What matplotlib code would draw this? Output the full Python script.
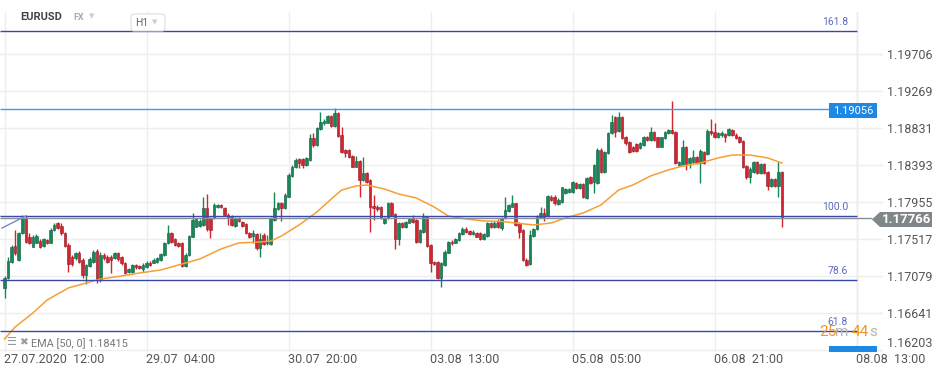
import numpy as np
import matplotlib.pyplot as plt
from matplotlib.patches import Rectangle, Polygon, FancyBboxPatch
from matplotlib.transforms import IdentityTransform

plt.rcParams['font.family'] = ['Roboto', 'DejaVu Sans']

# EURUSD H1 candles, 27.07.2020 12:00 onwards
opens = [1.16932, 1.17050, 1.17248, 1.17433, 1.17267, 1.17583, 1.17761, 1.17544, 1.17425, 1.17473,
         1.17496, 1.17433, 1.17504, 1.17473, 1.17623, 1.17701, 1.17670, 1.17583, 1.17445, 1.17307,
         1.17287, 1.17354, 1.17267, 1.17090, 1.17196, 1.17248, 1.17374, 1.17031, 1.17327, 1.17307,
         1.17307, 1.17287, 1.17346, 1.17307, 1.17236, 1.17129, 1.17129, 1.17208, 1.17196, 1.17157,
         1.17188, 1.17236, 1.17236, 1.17248, 1.17267, 1.17327, 1.17465, 1.17591, 1.17512, 1.17473,
         1.17465, 1.17196, 1.17327, 1.17544, 1.17662, 1.17670, 1.17682, 1.17879, 1.17761, 1.17761,
         1.17891, 1.17918, 1.17879, 1.17800, 1.17780, 1.17674, 1.17761, 1.17721, 1.17690, 1.17591,
         1.17552, 1.17575, 1.17405, 1.17563, 1.17465, 1.17457, 1.17741, 1.17867, 1.17946, 1.17879,
         1.18017, 1.18262, 1.18372, 1.18459, 1.18459, 1.18392, 1.18451, 1.18708, 1.18629, 1.18814,
         1.18885, 1.18893, 1.18972, 1.18854, 1.19012, 1.18747, 1.18570, 1.18570, 1.18499, 1.18372,
         1.18443, 1.18215, 1.18301, 1.18215, 1.17907, 1.17899, 1.17891, 1.17702, 1.17761, 1.17946,
         1.17812, 1.17512, 1.17710, 1.17654, 1.17710, 1.17761, 1.17741, 1.17477, 1.17603, 1.17780,
         1.17441, 1.17240, 1.17240, 1.17050, 1.17208, 1.17354, 1.17484, 1.17473, 1.17504, 1.17575,
         1.17631, 1.17611, 1.17575, 1.17591, 1.17591, 1.17516, 1.17556, 1.17710, 1.17654, 1.17733,
         1.17642, 1.17761, 1.17852, 1.17899, 1.17938, 1.17702, 1.17623, 1.17268, 1.17220, 1.17552,
         1.17631, 1.17773, 1.17820, 1.17788, 1.18017, 1.18017, 1.17930, 1.17958, 1.18065, 1.18076,
         1.18076, 1.18183, 1.18116, 1.18163, 1.17998, 1.18246, 1.18195, 1.18175, 1.18570, 1.18313,
         1.18530, 1.18767, 1.18964, 1.18795, 1.18964, 1.18728, 1.18668, 1.18601, 1.18637, 1.18589,
         1.18629, 1.18720, 1.18688, 1.18787, 1.18720, 1.18609, 1.18708, 1.18767, 1.18806, 1.18787,
         1.18392, 1.18392, 1.18609, 1.18412, 1.18432, 1.18491, 1.18412, 1.18550, 1.18522, 1.18799,
         1.18779, 1.18728, 1.18747, 1.18759, 1.18747, 1.18806, 1.18747, 1.18728, 1.18676, 1.18380,
         1.18246, 1.18313, 1.18432, 1.18294, 1.18404, 1.18313, 1.18144, 1.18222, 1.18144, 1.18313]
highs = [1.17078, 1.17307, 1.17445, 1.17623, 1.17603, 1.17800, 1.17800, 1.17583, 1.17563, 1.17575,
         1.17512, 1.17524, 1.17520, 1.17642, 1.17701, 1.17721, 1.17701, 1.17595, 1.17465, 1.17327,
         1.17366, 1.17374, 1.17287, 1.17220, 1.17307, 1.17386, 1.17394, 1.17366, 1.17346, 1.17327,
         1.17327, 1.17366, 1.17358, 1.17319, 1.17248, 1.17177, 1.17220, 1.17220, 1.17208, 1.17236,
         1.17252, 1.17252, 1.17287, 1.17299, 1.17354, 1.17484, 1.17682, 1.17603, 1.17528, 1.17484,
         1.17480, 1.17346, 1.17563, 1.17820, 1.17764, 1.17749, 1.18017, 1.18049, 1.17780, 1.17938,
         1.17930, 1.17930, 1.17899, 1.17820, 1.17796, 1.17780, 1.17780, 1.17733, 1.17701, 1.17603,
         1.17623, 1.17591, 1.17583, 1.17583, 1.17563, 1.17772, 1.18076, 1.17958, 1.17958, 1.18057,
         1.18294, 1.18392, 1.18471, 1.18471, 1.18471, 1.18491, 1.18759, 1.18767, 1.18846, 1.19024,
         1.18933, 1.18984, 1.18984, 1.19063, 1.19020, 1.18846, 1.18578, 1.18582, 1.18510, 1.18499,
         1.18451, 1.18491, 1.18313, 1.18222, 1.18037, 1.17919, 1.17907, 1.17773, 1.17958, 1.17958,
         1.17828, 1.17721, 1.17721, 1.17733, 1.17761, 1.17800, 1.17749, 1.17635, 1.17828, 1.17792,
         1.17457, 1.17252, 1.17252, 1.17248, 1.17386, 1.17496, 1.17504, 1.17528, 1.17595, 1.17654,
         1.17662, 1.17623, 1.17623, 1.17603, 1.17603, 1.17583, 1.17721, 1.17721, 1.17729, 1.17749,
         1.17780, 1.18017, 1.17930, 1.18037, 1.17946, 1.17721, 1.17630, 1.17287, 1.17623, 1.17642,
         1.17800, 1.17891, 1.17879, 1.18037, 1.18033, 1.18033, 1.17998, 1.18136, 1.18116, 1.18120,
         1.18207, 1.18195, 1.18175, 1.18175, 1.18246, 1.18262, 1.18404, 1.18589, 1.18589, 1.18562,
         1.18787, 1.18984, 1.18972, 1.19024, 1.18972, 1.18739, 1.18680, 1.18617, 1.18649, 1.18668,
         1.18739, 1.18735, 1.18846, 1.18799, 1.18728, 1.18728, 1.18799, 1.18818, 1.19150, 1.18799,
         1.18443, 1.18688, 1.18617, 1.18491, 1.18570, 1.18503, 1.18578, 1.18562, 1.18814, 1.18933,
         1.18885, 1.18787, 1.18791, 1.18775, 1.18826, 1.18818, 1.18767, 1.18739, 1.18688, 1.18392,
         1.18365, 1.18443, 1.18443, 1.18420, 1.18420, 1.18325, 1.18234, 1.18234, 1.18432, 1.18325]
lows = [1.16814, 1.17038, 1.17236, 1.17327, 1.17256, 1.17571, 1.17473, 1.17457, 1.17417, 1.17465,
        1.17409, 1.17417, 1.17453, 1.17465, 1.17611, 1.17630, 1.17563, 1.17425, 1.17129, 1.17196,
        1.17267, 1.17228, 1.17050, 1.16983, 1.17181, 1.17236, 1.16991, 1.17011, 1.17267, 1.17236,
        1.17110, 1.17275, 1.17259, 1.17208, 1.17102, 1.17110, 1.17117, 1.17165, 1.17157, 1.17129,
        1.17177, 1.17196, 1.17228, 1.17236, 1.17259, 1.17315, 1.17457, 1.17465, 1.17433, 1.17417,
        1.17181, 1.17188, 1.17315, 1.17536, 1.17654, 1.17662, 1.17670, 1.17615, 1.17524, 1.17749,
        1.17879, 1.17879, 1.17788, 1.17682, 1.17670, 1.17662, 1.17721, 1.17654, 1.17571, 1.17524,
        1.17465, 1.17386, 1.17307, 1.17445, 1.17445, 1.17445, 1.17733, 1.17859, 1.17733, 1.17867,
        1.18009, 1.18246, 1.18361, 1.18353, 1.18353, 1.18380, 1.18443, 1.18609, 1.18617, 1.18806,
        1.18866, 1.18885, 1.18838, 1.18838, 1.18728, 1.18538, 1.18491, 1.18471, 1.18365, 1.18365,
        1.18009, 1.18207, 1.18183, 1.17603, 1.17741, 1.17852, 1.17749, 1.17694, 1.17749, 1.17788,
        1.17394, 1.17445, 1.17642, 1.17646, 1.17702, 1.17710, 1.17465, 1.17465, 1.17591, 1.17425,
        1.17129, 1.17208, 1.17039, 1.16952, 1.17197, 1.17347, 1.17449, 1.17465, 1.17496, 1.17563,
        1.17591, 1.17563, 1.17563, 1.17536, 1.17504, 1.17504, 1.17544, 1.17642, 1.17642, 1.17650,
        1.17623, 1.17749, 1.17840, 1.17891, 1.17670, 1.17524, 1.17260, 1.17197, 1.17208, 1.17544,
        1.17623, 1.17761, 1.17733, 1.17780, 1.17966, 1.17919, 1.17919, 1.17946, 1.18049, 1.18065,
        1.18065, 1.18104, 1.18104, 1.17998, 1.17986, 1.18163, 1.18057, 1.18167, 1.18301, 1.18301,
        1.18522, 1.18755, 1.18728, 1.18783, 1.18696, 1.18629, 1.18538, 1.18546, 1.18550, 1.18578,
        1.18617, 1.18676, 1.18680, 1.18680, 1.18601, 1.18601, 1.18696, 1.18759, 1.18759, 1.18404,
        1.18380, 1.18380, 1.18333, 1.18353, 1.18420, 1.18404, 1.18175, 1.18404, 1.18510, 1.18747,
        1.18708, 1.18716, 1.18728, 1.18668, 1.18735, 1.18735, 1.18696, 1.18649, 1.18353, 1.18222,
        1.18183, 1.18301, 1.18286, 1.18282, 1.18286, 1.18096, 1.18136, 1.18128, 1.18009, 1.17662]
closes = [1.17050, 1.17259, 1.17425, 1.17346, 1.17583, 1.17761, 1.17484, 1.17473, 1.17544, 1.17552,
          1.17425, 1.17512, 1.17465, 1.17623, 1.17682, 1.17642, 1.17583, 1.17433, 1.17220, 1.17220,
          1.17354, 1.17248, 1.17090, 1.17208, 1.17275, 1.17366, 1.17031, 1.17327, 1.17287, 1.17248,
          1.17267, 1.17346, 1.17275, 1.17228, 1.17117, 1.17157, 1.17208, 1.17181, 1.17169, 1.17208,
          1.17236, 1.17208, 1.17267, 1.17287, 1.17338, 1.17465, 1.17591, 1.17484, 1.17445, 1.17433,
          1.17196, 1.17327, 1.17552, 1.17741, 1.17749, 1.17733, 1.17879, 1.17630, 1.17623, 1.17918,
          1.17918, 1.17891, 1.17800, 1.17780, 1.17682, 1.17761, 1.17733, 1.17670, 1.17583, 1.17544,
          1.17583, 1.17405, 1.17512, 1.17457, 1.17484, 1.17761, 1.17879, 1.17938, 1.17879, 1.18037,
          1.18274, 1.18372, 1.18451, 1.18420, 1.18392, 1.18471, 1.18708, 1.18629, 1.18826, 1.18905,
          1.18913, 1.18972, 1.18854, 1.19012, 1.18735, 1.18550, 1.18538, 1.18491, 1.18372, 1.18443,
          1.18215, 1.18301, 1.18195, 1.17891, 1.17879, 1.17867, 1.17761, 1.17761, 1.17946, 1.17800,
          1.17512, 1.17702, 1.17654, 1.17717, 1.17749, 1.17721, 1.17477, 1.17623, 1.17780, 1.17433,
          1.17228, 1.17220, 1.17050, 1.17228, 1.17366, 1.17484, 1.17465, 1.17516, 1.17583, 1.17631,
          1.17603, 1.17575, 1.17603, 1.17544, 1.17516, 1.17575, 1.17710, 1.17654, 1.17710, 1.17662,
          1.17761, 1.17859, 1.17919, 1.17938, 1.17682, 1.17603, 1.17268, 1.17208, 1.17563, 1.17631,
          1.17780, 1.17820, 1.17780, 1.18025, 1.17978, 1.17946, 1.17978, 1.18128, 1.18104, 1.18104,
          1.18195, 1.18116, 1.18163, 1.18009, 1.18234, 1.18175, 1.18392, 1.18570, 1.18313, 1.18550,
          1.18775, 1.18905, 1.18787, 1.18964, 1.18708, 1.18649, 1.18550, 1.18562, 1.18562, 1.18649,
          1.18728, 1.18688, 1.18787, 1.18688, 1.18609, 1.18720, 1.18787, 1.18806, 1.18775, 1.18412,
          1.18432, 1.18609, 1.18392, 1.18471, 1.18491, 1.18420, 1.18562, 1.18420, 1.18799, 1.18767,
          1.18720, 1.18767, 1.18775, 1.18728, 1.18814, 1.18747, 1.18708, 1.18668, 1.18365, 1.18246,
          1.18345, 1.18432, 1.18294, 1.18404, 1.18301, 1.18144, 1.18222, 1.18144, 1.18313, 1.17766]

# EMA(50) at some candle positions
ema_idx = [0, 3, 8, 12, 18, 27, 33, 38, 44, 49, 55, 61, 66, 72, 75, 78, 83, 88, 93, 95, 99, 102,
           107, 111, 116, 121, 125, 130, 135, 140, 144, 149, 154, 158, 163, 168, 173, 177, 182,
           187, 191, 196, 201, 205, 210, 215, 219]
ema_val = [1.16332, 1.16474, 1.16640, 1.16794, 1.16936, 1.17042, 1.17078, 1.17113, 1.17149,
           1.17208, 1.17279, 1.17398, 1.17469, 1.17480, 1.17492, 1.17551, 1.17682, 1.17836,
           1.18025, 1.18096, 1.18143, 1.18155, 1.18108, 1.18049, 1.18001, 1.17895, 1.17788,
           1.17753, 1.17729, 1.17723, 1.17705, 1.17682, 1.17705, 1.17765, 1.17824, 1.17918,
           1.18096, 1.18155, 1.18262, 1.18333, 1.18380, 1.18416, 1.18475, 1.18510, 1.18510,
           1.18475, 1.18415]

fib_levels = ['61.8', '78.6', '100.0', '161.8']
fib_prices = [1.16427, 1.17031, 1.17788, 1.19978]
high_line = 1.19056
last_price = 1.17766
trend_x = [-0.7, 6.0]
trend_y = [1.17646, 1.17788]

y_ticks = [1.19706, 1.19269, 1.18831, 1.18393, 1.17955, 1.17517, 1.17079, 1.16641, 1.16203]
x_ticks = [0, 40, 80, 120, 160, 200, 240]
x_labels = ['27.07.2020  12:00', '29.07  04:00', '30.07  20:00', '03.08  13:00',
            '05.08  05:00', '06.08  21:00', '08.08  13:00']

W, H = 945, 376
fig = plt.figure(figsize=(W / 100, H / 100), dpi=100)
ax = fig.add_axes([0, (H - 352) / H, 883 / W, (352 - 12) / H])

x0, step = 4.5, 3.55          # pixel of first candle, pixels per candle
def xi(px):
    return (px - x0) / step
def fx(px):
    return px / W
def fy(py):
    return 1 - py / H

ax.set_xlim(xi(0), xi(883))
ax.set_ylim(1.16178, 1.20203)
for s in ax.spines.values():
    s.set_visible(False)

ax.set_yticks(y_ticks)
ax.set_yticklabels([f'{v:.5f}' for v in y_ticks])
ax.yaxis.tick_right()
ax.set_xticks(x_ticks)
ax.set_xticklabels(x_labels, ha='left')
ax.tick_params(axis='both', length=0, labelsize=9, colors='#555555')
ax.tick_params(axis='y', pad=3)
ax.tick_params(axis='x', pad=1, labelsize=9)
ax.get_yticklabels()[-1].set_verticalalignment('bottom')
ax.grid(color='#eeeeee', lw=1, zorder=0)

border = xi(857)
ax.axvline(border, color='#e4e4e4', lw=1, zorder=1)

# candles
o = np.array(opens); h = np.array(highs); l = np.array(lows); c = np.array(closes)
idx = np.arange(len(c))
up = c >= o
green, red = '#17875a', '#d7222f'
cols = np.where(up, green, red)
ax.vlines(idx, l, h, colors=cols, lw=1, zorder=3)
body = np.maximum(np.abs(c - o), 0.00002)
ax.bar(idx, body, bottom=np.minimum(o, c), width=0.72, color=cols,
       edgecolor=np.where(up, '#0e5c3c', '#8e1a22'), lw=0.4, zorder=4)

# EMA
ax.plot(ema_idx, ema_val, color='#f6a033', lw=1.1, zorder=5)

# fib lines
for lab, p in zip(fib_levels, fib_prices):
    ax.hlines(p, xi(0), border, color='#3949ab', lw=1, zorder=6)
    ax.text(xi(848), p + 0.00045, lab, ha='right', va='bottom', fontsize=7.5,
            color='#5c6bc0', zorder=7)

ax.hlines(high_line, xi(0), xi(829), color='#3d9df0', lw=1, zorder=6)
ax.hlines(last_price, xi(0), xi(872), color='#8a8f93', lw=1, zorder=6)
ax.plot(trend_x, trend_y, color='#7986cb', lw=1, zorder=6)

# price tags (pixel coordinates)
tr = IdentityTransform()
fig.patches.append(Rectangle((829, H - 118), 48, 15, fc='#1e88e5', ec='none', transform=tr, figure=fig))
fig.text(fx(853), fy(110.5), '1.19056', ha='center', va='center', fontsize=8, color='white')
fig.patches.append(Polygon([(872, H - 219.5), (880, H - 212), (932, H - 212), (932, H - 227), (880, H - 227)],
                           closed=True, fc='#7f878b', ec='none', transform=tr, figure=fig))
fig.text(fx(907), fy(219.5), '1.17766', ha='center', va='center', fontsize=9.5,
         weight='bold', color='white')
fig.patches.append(Rectangle((829, H - 352), 48, 6, fc='#1e88e5', ec='none', transform=tr, figure=fig))

# countdown
for txt, px, col in [('25', 819, '#f7931e'), ('m', 835, '#b5b5b5'), ('44', 852, '#f7931e'), ('s', 869, '#b5b5b5')]:
    fig.text(fx(px), fy(332), txt, ha='left', va='center', fontsize=11, color=col)

# header
fig.text(fx(20), fy(17), 'EURUSD', fontsize=8, weight='bold', color='#444444', va='center')
fig.text(fx(73), fy(17), 'FX', fontsize=6.5, weight='bold', color='#aaaaaa', va='center')
fig.text(fx(89), fy(16), '\u25bc', fontsize=5, color='#cccccc', va='center', family='DejaVu Sans')
fig.patches.append(FancyBboxPatch((131, H - 31), 34, 17, boxstyle='round,pad=0,rounding_size=3',
                                  fc='white', ec='#dddddd', lw=0.8, transform=tr, figure=fig, zorder=1))
fig.text(fx(135), fy(22.5), 'H1', fontsize=7.5, color='#666666', va='center', zorder=10)
fig.text(fx(152), fy(22), '\u25bc', fontsize=5, color='#cccccc', va='center', family='DejaVu Sans', zorder=10)

# EMA legend
fig.text(fx(6), fy(342), '\u2630', fontsize=8, color='#999999', va='center', family='DejaVu Sans')
fig.text(fx(19), fy(342), '\u2716', fontsize=7.5, color='#999999', va='center', family='DejaVu Sans')
fig.text(fx(31), fy(344), 'EMA [50, 0] 1.18415', fontsize=7.8, color='#777777', va='center')

fig.savefig('out.png', dpi=100, facecolor='white')
